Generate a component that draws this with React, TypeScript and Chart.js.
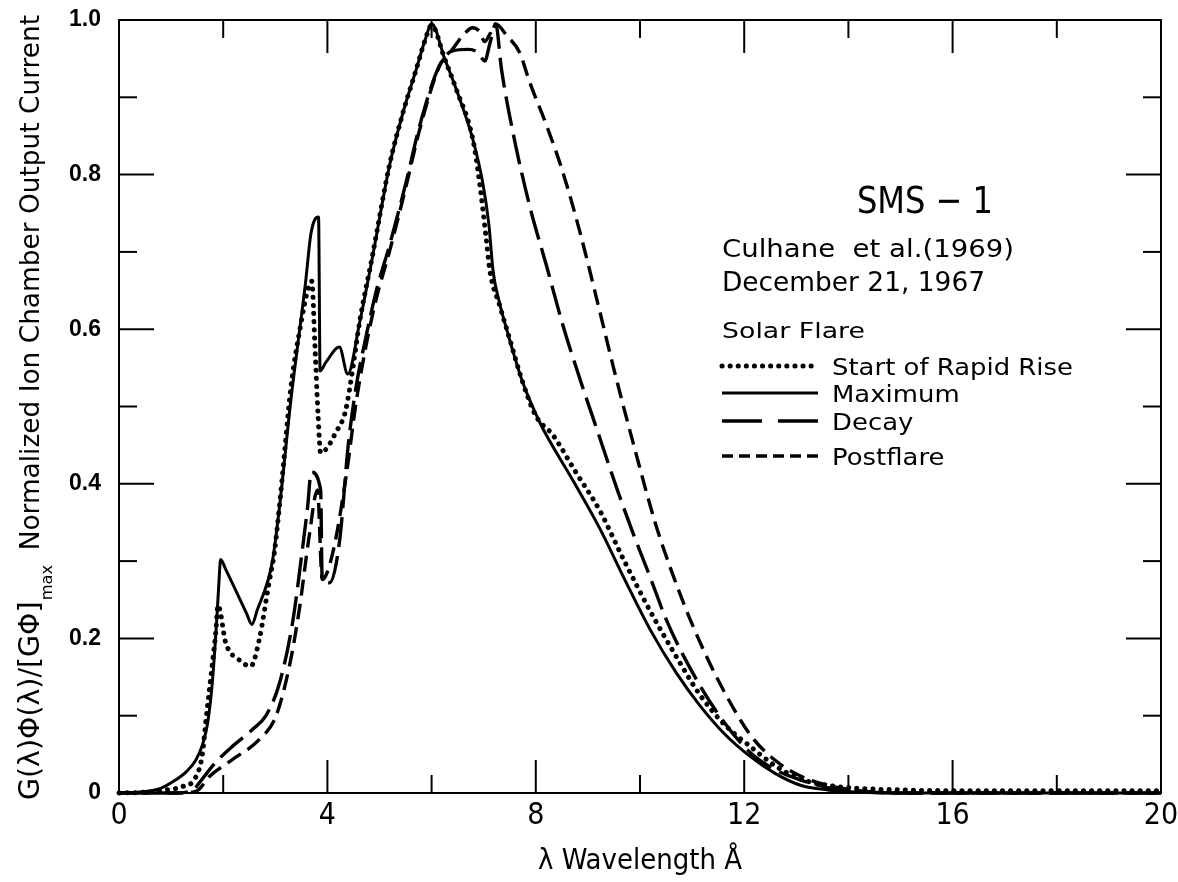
import React, { useEffect, useRef } from "react";
import { Chart, registerables } from "chart.js";

Chart.register(...registerables);

// ---------------- data ----------------
const X_TICK_LABELS = ["0", "4", "8", "12", "16", "20"];
const Y_TICK_LABELS = ["0", "0.2", "0.4", "0.6", "0.8", "1.0"];
const X_MAJOR = [4, 8, 12, 16];
const X_MINOR = [2, 6, 10, 14, 18];
const Y_MAJOR = [0.2, 0.4, 0.6, 0.8];
const Y_MINOR = [0.1, 0.3, 0.5, 0.7, 0.9];

const SERIES_NAMES = ["Start of Rapid Rise", "Maximum", "Decay", "Postflare"];

// Start of Rapid Rise (dotted)
const RISE_X = [0, 0.5, 0.77, 1.2, 1.47, 1.6, 1.67, 1.78, 1.86, 1.9, 2.05, 2.31, 2.53, 2.69, 2.88, 2.98, 3.1, 3.3, 3.5, 3.62, 3.7, 3.76, 3.82, 3.87, 4.0, 4.15, 4.35, 4.5, 4.62, 4.87, 5.19, 5.45, 5.7, 5.88, 6.0, 6.25, 6.47, 6.79, 6.92, 7.05, 7.12, 7.31, 7.5, 7.75, 8.0, 8.33, 8.75, 9.23, 9.7, 10.19, 10.7, 11.15, 11.6, 12.12, 12.6, 13.08, 13.6, 14.2, 15, 16, 17, 18, 19, 20];
const RISE_Y = [0, 0.001, 0.003, 0.008, 0.02, 0.05, 0.095, 0.16, 0.21, 0.243, 0.194, 0.172, 0.164, 0.198, 0.272, 0.31, 0.385, 0.525, 0.61, 0.65, 0.662, 0.58, 0.49, 0.44, 0.447, 0.465, 0.495, 0.555, 0.61, 0.697, 0.812, 0.88, 0.935, 0.975, 0.993, 0.95, 0.911, 0.846, 0.79, 0.716, 0.675, 0.63, 0.587, 0.531, 0.488, 0.463, 0.417, 0.365, 0.3, 0.236, 0.176, 0.127, 0.09, 0.06, 0.035, 0.018, 0.01, 0.006, 0.004, 0.003, 0.003, 0.003, 0.003, 0.003];

// Maximum (solid)
const MAX_X = [0, 0.5, 0.8, 1.09, 1.3, 1.47, 1.6, 1.7, 1.79, 1.88, 1.92, 1.95, 2.05, 2.45, 2.55, 2.65, 2.94, 3.08, 3.3, 3.45, 3.58, 3.68, 3.76, 3.83, 3.86, 3.97, 4.23, 4.39, 4.62, 4.87, 5.19, 5.45, 5.7, 5.88, 6.0, 6.25, 6.47, 6.79, 6.98, 7.1, 7.18, 7.3, 7.44, 7.75, 8.08, 8.27, 8.75, 9.23, 9.7, 10.19, 10.7, 11.15, 11.6, 12.12, 12.6, 13.08, 13.6, 14.2, 15, 20];
const MAX_Y = [0, 0.002, 0.006, 0.017, 0.028, 0.042, 0.062, 0.09, 0.142, 0.228, 0.275, 0.302, 0.289, 0.232, 0.218, 0.236, 0.298, 0.37, 0.509, 0.59, 0.66, 0.722, 0.742, 0.745, 0.546, 0.557, 0.577, 0.542, 0.609, 0.695, 0.811, 0.88, 0.935, 0.975, 0.995, 0.95, 0.911, 0.846, 0.79, 0.735, 0.675, 0.635, 0.6, 0.531, 0.479, 0.455, 0.4, 0.342, 0.277, 0.212, 0.155, 0.113, 0.078, 0.047, 0.025, 0.01, 0.004, 0.001, 0, 0];

// Decay (long dash)
const DECAY_X = [0, 1.0, 1.4, 1.54, 1.7, 1.86, 2.17, 2.56, 2.82, 3.08, 3.33, 3.52, 3.62, 3.69, 3.87, 3.9, 4.04, 4.23, 4.4, 4.55, 4.74, 4.94, 5.19, 5.51, 5.77, 6.15, 6.4, 6.7, 6.89, 7.02, 7.12, 7.23, 7.34, 7.56, 7.88, 8.21, 8.52, 8.85, 9.2, 9.55, 9.9, 10.19, 10.5, 10.83, 11.47, 12.12, 12.6, 13.08, 13.6, 14.2, 15, 20];
const DECAY_Y = [0, 0, 0.003, 0.013, 0.027, 0.04, 0.06, 0.082, 0.1, 0.142, 0.22, 0.315, 0.37, 0.415, 0.392, 0.277, 0.272, 0.324, 0.45, 0.525, 0.59, 0.65, 0.708, 0.79, 0.863, 0.941, 0.96, 0.962, 0.958, 0.947, 0.97, 0.995, 0.937, 0.855, 0.76, 0.681, 0.605, 0.535, 0.465, 0.395, 0.33, 0.28, 0.225, 0.178, 0.105, 0.052, 0.03, 0.017, 0.007, 0.002, 0, 0];

// Postflare (short dash)
const POST_X = [0, 1.2, 1.5, 1.73, 2.17, 2.69, 3.01, 3.27, 3.46, 3.65, 3.81, 3.9, 4.1, 4.36, 4.55, 4.74, 4.94, 5.19, 5.51, 5.77, 6.15, 6.4, 6.6, 6.79, 6.92, 7.02, 7.12, 7.23, 7.44, 7.69, 7.88, 8.21, 8.52, 8.85, 9.17, 9.5, 9.9, 10.29, 10.6, 10.96, 11.47, 12.12, 12.6, 13.08, 13.6, 14.2, 15, 20];
const POST_Y = [0, 0, 0.003, 0.021, 0.043, 0.069, 0.099, 0.164, 0.237, 0.332, 0.392, 0.276, 0.31, 0.41, 0.505, 0.578, 0.64, 0.7, 0.785, 0.858, 0.94, 0.962, 0.98, 0.99, 0.985, 0.972, 0.982, 0.995, 0.98, 0.958, 0.92, 0.863, 0.803, 0.725, 0.639, 0.548, 0.445, 0.35, 0.288, 0.225, 0.15, 0.075, 0.042, 0.022, 0.01, 0.003, 0, 0];

const TITLE = "SMS \u2212 1";
const SOURCE = "Culhane  et al.(1969)";
const DATE = "December 21, 1967";
const LEGEND_HEADING = "Solar Flare";
const X_TITLE = "\u03bb Wavelength \u00c5";
const Y_TITLE_MAIN = "G(\u03bb)\u03a6(\u03bb)/[G\u03a6]";
const Y_TITLE_SUB = "max";
const Y_TITLE_REST = "Normalized Ion Chamber Output Current";

// ---------------- styles ----------------
const NARROW = '"Liberation Sans Narrow", "DejaVu Sans Condensed", "Liberation Sans", sans-serif';
const SANS = '"DejaVu Sans", "Liberation Sans", sans-serif';
const TICKFONT = '"Liberation Sans", Arial, sans-serif';

const LINE_STYLES = [
  { width: 5, dash: [0.1, 8], cap: "round", legendDash: [0.1, 8] },
  { width: 3, dash: [] as number[], cap: "butt", legendDash: [] as number[] },
  { width: 3.4, dash: [30, 9], cap: "butt", legendDash: [40, 16] },
  { width: 3.4, dash: [16, 8], cap: "butt", legendDash: [11, 6] },
];

function pts(xs: number[], ys: number[]) {
  return xs.map((x, i) => ({ x, y: ys[i] }));
}

function fitText(ctx: CanvasRenderingContext2D, text: string, x: number, y: number, font: string, width: number | null, align: CanvasTextAlign) {
  ctx.save();
  ctx.font = font;
  const w = ctx.measureText(text).width;
  const sx = width ? width / w : 1;
  ctx.translate(x, y);
  ctx.scale(sx, 1);
  ctx.textAlign = align;
  ctx.textBaseline = "alphabetic";
  ctx.fillText(text, 0, 0);
  ctx.restore();
}

const decorPlugin = {
  id: "decor",
  beforeDraw(chart: any) {
    const { ctx, width, height } = chart;
    ctx.save();
    ctx.fillStyle = "#fff";
    ctx.fillRect(0, 0, width, height);
    ctx.restore();
  },
  afterDraw(chart: any) {
    const ctx: CanvasRenderingContext2D = chart.ctx;
    const { left, right, top, bottom } = chart.chartArea;
    const xs = chart.scales.x;
    const ys = chart.scales.y;
    ctx.save();
    ctx.strokeStyle = "#000";
    ctx.fillStyle = "#000";
    ctx.lineWidth = 2;
    ctx.setLineDash([]);
    ctx.strokeRect(left, top, right - left, bottom - top);

    const seg = (x1: number, y1: number, x2: number, y2: number) => {
      ctx.beginPath();
      ctx.moveTo(x1, y1);
      ctx.lineTo(x2, y2);
      ctx.stroke();
    };
    const vt = (v: number, len: number) => {
      const p = xs.getPixelForValue(v);
      seg(p, bottom, p, bottom - len);
      seg(p, top, p, top + len);
    };
    const ht = (v: number, len: number) => {
      const p = ys.getPixelForValue(v);
      seg(left, p, left + len, p);
      seg(right, p, right - len, p);
    };
    X_MAJOR.forEach((v) => vt(v, 33));
    X_MINOR.forEach((v) => vt(v, 18));
    Y_MAJOR.forEach((v) => ht(v, 35));
    Y_MINOR.forEach((v) => ht(v, 18));

    // annotation block
    fitText(ctx, TITLE, 925, 213, `38px ${SANS}`, 136, "center");
    fitText(ctx, SOURCE, 722, 257, `25px ${SANS}`, 292, "left");
    fitText(ctx, DATE, 722, 291, `27px ${SANS}`, 263, "left");
    fitText(ctx, LEGEND_HEADING, 722, 338, `22px ${SANS}`, 143, "left");

    // legend
    const rows = [366, 393, 421, 456];
    const bases = [375, 402, 430, 465];
    ctx.font = `23px ${SANS}`;
    const lsx = 241 / ctx.measureText(SERIES_NAMES[0]).width;
    SERIES_NAMES.forEach((name, i) => {
      const st = LINE_STYLES[i];
      ctx.save();
      ctx.lineWidth = st.width;
      ctx.lineCap = st.cap as CanvasLineCap;
      ctx.setLineDash(st.legendDash);
      seg(722, rows[i], 818, rows[i]);
      ctx.restore();
      ctx.save();
      ctx.font = `23px ${SANS}`;
      ctx.translate(832, bases[i]);
      ctx.scale(lsx, 1);
      ctx.textAlign = "left";
      ctx.fillText(name, 0, 0);
      ctx.restore();
    });

    // x title
    fitText(ctx, X_TITLE, (left + right) / 2, 869, `28px ${NARROW}`, 204, "center");

    // y title (rotated)
    ctx.save();
    ctx.translate(39, 800);
    ctx.rotate(-Math.PI / 2);
    const mainFont = `28px ${NARROW}`;
    const restFont = `26px ${NARROW}`;
    const subFont = `16px ${NARROW}`;
    ctx.font = mainFont;
    const w1 = ctx.measureText(Y_TITLE_MAIN).width;
    ctx.font = restFont;
    const w3 = ctx.measureText(Y_TITLE_REST).width;
    ctx.font = subFont;
    const w2 = ctx.measureText(Y_TITLE_SUB).width;
    const gap = 14;
    const total = w1 + w2 + gap + w3;
    const sx = 785 / total;
    ctx.scale(sx, 1);
    ctx.textAlign = "left";
    ctx.textBaseline = "alphabetic";
    ctx.font = mainFont;
    ctx.fillText(Y_TITLE_MAIN, 0, 0);
    ctx.font = subFont;
    ctx.fillText(Y_TITLE_SUB, w1 + 1, 13);
    ctx.font = restFont;
    ctx.fillText(Y_TITLE_REST, w1 + w2 + gap, 0);
    ctx.restore();

    ctx.restore();
  },
};

export default function App() {
  const ref = useRef<HTMLCanvasElement | null>(null);

  useEffect(() => {
    if (!ref.current) return;
    const seriesData = [pts(RISE_X, RISE_Y), pts(MAX_X, MAX_Y), pts(DECAY_X, DECAY_Y), pts(POST_X, POST_Y)];
    const chart = new Chart(ref.current, {
      type: "line",
      data: {
        datasets: SERIES_NAMES.map((name, i) => ({
          label: name,
          data: seriesData[i],
          borderColor: "#000",
          backgroundColor: "#000",
          borderWidth: LINE_STYLES[i].width,
          borderDash: LINE_STYLES[i].dash,
          borderCapStyle: LINE_STYLES[i].cap as any,
          borderJoinStyle: "round" as any,
          pointRadius: 0,
          pointHoverRadius: 0,
          fill: false,
          cubicInterpolationMode: "monotone" as any,
          clip: 6,
        })),
      },
      options: {
        animation: false,
        responsive: false,
        maintainAspectRatio: false,
        layout: { padding: { left: 0, right: 17, top: 20, bottom: 0 } },
        plugins: {
          legend: { display: false },
          tooltip: { enabled: false },
          title: { display: false },
        },
        scales: {
          x: {
            type: "linear",
            min: 0,
            max: 20,
            afterFit: (s: any) => {
              s.height = 89;
              s.paddingLeft = 0;
              s.paddingRight = 0;
            },
            grid: { display: false, drawTicks: false },
            border: { display: false },
            ticks: {
              stepSize: 4,
              autoSkip: false,
              maxRotation: 0,
              padding: 5,
              color: "#000",
              font: { family: NARROW, size: 30 },
              callback: (_v: any, i: number) => X_TICK_LABELS[i],
            },
          },
          y: {
            type: "linear",
            min: 0,
            max: 1,
            afterFit: (s: any) => {
              s.width = 119;
              s.paddingTop = 0;
              s.paddingBottom = 0;
            },
            grid: { display: false, drawTicks: false },
            border: { display: false },
            ticks: {
              stepSize: 0.2,
              autoSkip: false,
              padding: 18,
              color: "#000",
              font: { family: TICKFONT, size: 23, weight: "bold" },
              callback: (_v: any, i: number) => Y_TICK_LABELS[i],
            },
          },
        },
      },
      plugins: [decorPlugin],
    } as any);
    return () => chart.destroy();
  }, []);

  return (
    <div style={{ position: "fixed", left: 0, top: 0, width: 1178, height: 882, background: "#fff" }}>
      <canvas ref={ref} width={1178} height={882} style={{ display: "block", width: 1178, height: 882 }} />
    </div>
  );
}
